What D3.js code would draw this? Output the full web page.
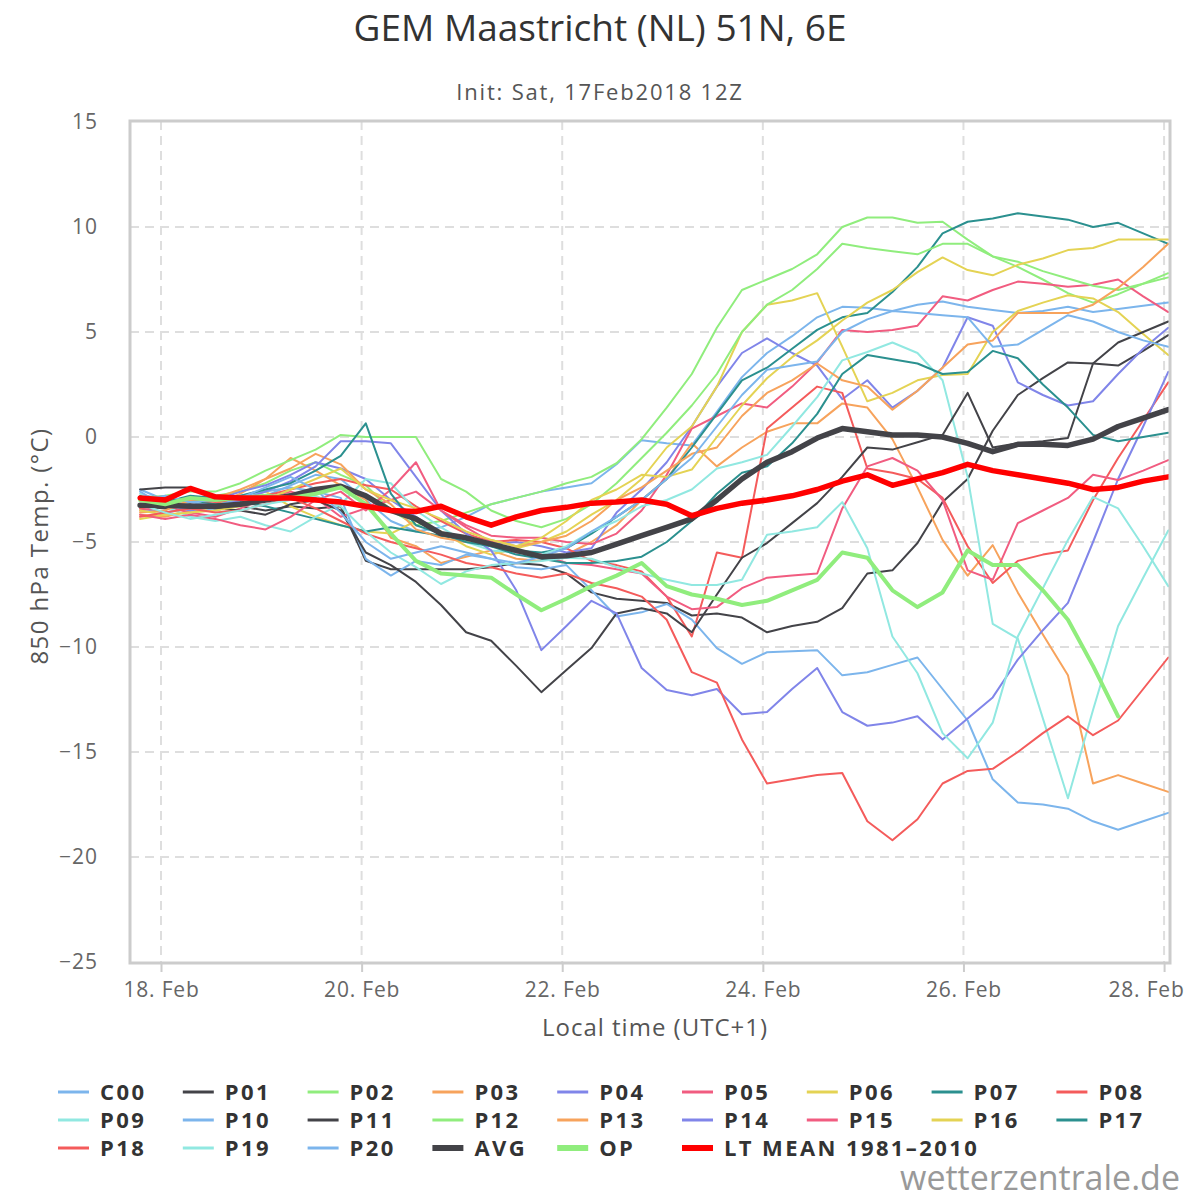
<!DOCTYPE html>
<html>
<head>
<meta charset="utf-8">
<script src="https://cdn.jsdelivr.net/npm/d3@7"></script>
<style>
  body { margin: 0; background: #fff; }
  svg text { font-family: "Open Sans", "DejaVu Sans", sans-serif; }
</style>
</head>
<body>
<div id="chart"></div>
<script>
// forecast hours after init (Sat 17 Feb 2018 12Z), 6-hourly
const hours = [6, 12, 18, 24, 30, 36, 42, 48, 54, 60, 66, 72, 78, 84, 90, 96, 102, 108, 114, 120, 126,
    132, 138, 144, 150, 156, 162, 168, 174, 180, 186, 192, 198, 204, 210, 216, 222, 228, 234, 240, 246, 252];

const tickDays = [18, 20, 22, 24, 26, 28];
const yTicks = [15, 10, 5, 0, -5, -10, -15, -20, -25];

// 850 hPa temperatures per member (°C)
const C00 = [-2.5, -3.0, -3.3, -3.5, -3.2, -2.8, -2.3, -1.8, -2.0, -3.0, -4.0, -4.5, -4.3, -3.8, -3.2, -2.9, -2.6, -2.4, -2.2, -1.3, -0.15,
    -0.3, -0.4, 1.2, 2.85, 4.0, 4.8, 5.7, 6.2, 6.15, 6.0, 6.3, 6.45, 6.2, 6.05, 5.9, 6.0, 6.2, 5.95, 6.1, 6.25, 6.4];
const P01 = [-2.5, -2.4, -2.4, -2.9, -3.3, -3.5, -3.3, -3.4, -3.3, -5.9, -6.3, -6.3, -6.3, -6.3, -6.2, -6.0, -6.1, -6.5, -7.4, -7.7, -7.8,
    -7.9, -8.5, -8.4, -8.6, -9.3, -9.0, -8.8, -8.15, -6.5, -6.35, -5.05, -3.1, -2.0, 0.3, 2.0, 2.8, 3.55, 3.5, 3.4, 4.1, 4.85];
const P02 = [-3.0, -3.1, -2.9, -2.8, -2.6, -2.2, -1.6, -1.2, -1.8, -2.3, -3.5, -4.2, -4.0, -3.6, -3.2, -2.9, -2.6, -2.2, -1.9, -1.25, -0.1,
    1.4, 3.0, 5.2, 7.0, 7.5, 8.0, 8.7, 10.0, 10.45, 10.45, 10.2, 10.25, 9.4, 8.6, 8.1, 7.5, 6.85, 6.4, 6.8, 7.3, 7.8];
const P03 = [-3.7, -3.8, -3.5, -3.2, -2.7, -2.0, -1.0, -1.6, -2.3, -3.0, -4.8, -5.2, -6.0, -5.7, -5.4, -5.8, -5.9, -5.6, -5.0, -4.2, -3.0,
    -2.0, -0.3, -1.4, -0.5, 0.25, 0.65, 0.65, 1.6, 1.4, -0.1, -2.4, -4.9, -6.6, -5.15, -7.4, -9.4, -11.35, -16.5, -16.1, -16.5, -16.9];
const P04 = [-3.4, -3.6, -3.4, -3.0, -2.6, -2.3, -1.8, -1.2, -1.5, -2.0, -3.0, -3.8, -4.6, -5.0, -5.1, -5.0, -5.2, -5.5, -5.3, -3.6, -2.5,
    -1.2, 0.5, 2.4, 4.0, 4.7, 4.0, 3.4, 1.8, 2.7, 1.4, 2.2, 3.3, 5.7, 5.3, 2.6, 2.0, 1.5, 1.7, 3.0, 4.2, 5.2];
const P05 = [-3.5, -3.3, -3.6, -3.8, -3.4, -2.9, -2.6, -2.9, -3.8, -3.4, -3.0, -2.6, -3.5, -4.2, -4.7, -4.8, -4.8, -5.0, -5.1, -4.6, -3.5,
    -1.8, 0.4, 1.0, 1.6, 1.4, 2.4, 3.55, 5.1, 5.0, 5.1, 5.3, 6.7, 6.5, 7.0, 7.4, 7.3, 7.15, 7.25, 7.5, 6.7, 5.95];
const P06 = [-3.9, -3.7, -3.6, -3.3, -3.0, -2.6, -3.3, -3.8, -4.2, -4.5, -4.6, -4.0, -4.5, -5.2, -5.6, -5.3, -5.0, -4.5, -3.7, -3.0, -2.0,
    -0.5, 0.5, 2.4, 5.0, 6.3, 6.5, 6.85, 4.3, 1.7, 2.1, 2.7, 2.95, 3.0, 5.0, 6.0, 6.4, 6.75, 6.6, 5.95, 4.9, 3.9];
const P07 = [-2.8, -2.9, -3.0, -3.2, -3.1, -3.3, -3.6, -3.9, -4.2, -4.5, -4.3, -4.5, -4.7, -4.9, -5.2, -5.4, -5.5, -5.3, -4.6, -3.8, -3.0,
    -2.0, -0.5, 1.1, 2.7, 3.3, 4.2, 5.1, 5.7, 5.9, 6.9, 8.1, 9.7, 10.25, 10.4, 10.65, 10.5, 10.35, 10.0, 10.2, 9.7, 9.2];
const P08 = [-3.4, -3.2, -3.0, -3.1, -3.0, -2.8, -2.5, -2.2, -2.0, -2.3, -2.5, -3.3, -4.0, -4.6, -5.0, -4.9, -5.0, -5.3, -5.9, -6.1, -6.4,
    -7.6, -9.5, -5.5, -5.75, 0.4, 1.4, 2.4, 2.1, -1.5, -1.7, -2.0, -2.9, -5.2, -6.95, -5.9, -5.6, -5.4, -3.0, -1.0, 0.8, 2.6];
const P09 = [-2.7, -3.3, -3.8, -4.0, -3.8, -4.2, -4.5, -3.8, -3.2, -2.0, -2.2, -3.5, -4.3, -5.0, -5.4, -5.5, -5.6, -5.2, -4.5, -4.0, -3.3,
    -3.0, -2.5, -1.5, -1.2, -0.85, 0.5, 1.9, 3.65, 4.05, 4.5, 4.0, 2.7, -1.9, -8.9, -9.6, -13.4, -17.2, -13.0, -9.0, -6.7, -4.45];
const P10 = [-2.6, -3.3, -3.1, -3.0, -2.8, -2.6, -2.4, -2.6, -2.9, -5.8, -6.6, -5.9, -6.1, -5.6, -5.8, -6.2, -6.3, -6.1, -7.3, -8.55, -8.35,
    -7.95, -8.7, -10.05, -10.8, -10.25, -10.2, -10.15, -11.35, -11.2, -10.85, -10.5, -12.0, -13.5, -16.3, -17.4, -17.5, -17.7, -18.3, -18.7, -18.3, -17.9];
const P11 = [-3.3, -3.4, -3.2, -3.4, -3.5, -3.7, -3.2, -3.0, -3.5, -5.5, -6.1, -6.9, -8.0, -9.3, -9.7, -10.9, -12.15, -11.1, -10.05, -8.4, -8.15,
    -8.4, -9.3, -7.5, -5.75, -5.05, -4.1, -3.15, -1.9, -0.5, -0.6, -0.25, 0.1, 2.1, -0.5, -0.3, -0.2, -0.05, 3.5, 4.5, 5.0, 5.5];
const P12 = [-2.9, -2.8, -2.6, -2.6, -2.2, -1.6, -1.1, -0.6, 0.1, 0.0, 0.0, 0.0, -2.0, -2.6, -3.5, -4.0, -4.3, -3.9, -3.2, -2.2, -1.0,
    0.2, 1.5, 3.0, 5.0, 6.3, 7.0, 8.0, 9.2, 9.0, 8.85, 8.7, 9.2, 9.2, 8.6, 8.35, 7.9, 7.55, 7.2, 7.0, 7.3, 7.6];
const P13 = [-3.6, -3.5, -3.0, -2.9, -2.5, -2.0, -1.5, -0.8, -1.3, -2.5, -3.2, -4.4, -4.8, -5.0, -4.9, -5.2, -5.0, -4.7, -4.0, -3.0, -2.4,
    -1.6, -0.8, -0.5, 1.0, 2.1, 2.7, 3.5, 2.7, 2.4, 1.3, 2.2, 3.3, 4.4, 4.6, 5.9, 5.9, 5.9, 6.3, 7.1, 8.1, 9.2];
const P14 = [-3.0, -3.2, -3.5, -3.3, -3.0, -2.6, -2.1, -1.4, -0.2, -0.2, -0.3, -1.9, -3.5, -4.6, -5.4, -7.3, -10.15, -9.0, -7.8, -8.4, -11.0,
    -12.05, -12.3, -12.0, -13.2, -13.1, -12.0, -11.0, -13.1, -13.75, -13.6, -13.3, -14.4, -13.4, -12.4, -10.6, -9.2, -7.9, -5.0, -2.0, 0.5, 3.1];
const P15 = [-3.7, -3.9, -3.7, -3.9, -4.2, -4.4, -3.8, -3.0, -2.6, -3.5, -2.5, -1.2, -3.5, -4.3, -5.0, -5.5, -5.6, -6.0, -6.1, -6.3, -6.5,
    -7.6, -8.2, -8.1, -7.2, -6.7, -6.6, -6.5, -3.4, -1.4, -1.0, -1.6, -3.0, -6.35, -6.8, -4.1, -3.5, -2.9, -1.8, -2.05, -1.6, -1.1];
const P16 = [-3.5, -3.7, -3.6, -3.5, -3.3, -3.0, -2.5, -2.0, -1.5, -2.5, -3.0, -3.4, -3.9, -4.5, -4.9, -5.2, -4.8, -4.0, -3.0, -2.5, -1.8,
    -1.9, -1.55, 0.0, 1.5, 2.8, 3.8, 4.6, 5.55, 6.4, 7.0, 7.85, 8.55, 7.95, 7.7, 8.2, 8.5, 8.9, 9.0, 9.4, 9.4, 9.4];
const P17 = [-3.0, -3.1, -2.8, -2.9, -2.8, -2.5, -2.2, -1.6, -0.9, 0.65, -2.7, -4.2, -4.6, -5.0, -5.2, -5.6, -5.8, -6.0, -6.0, -5.9, -5.7,
    -5.0, -4.0, -2.7, -1.7, -1.4, -0.3, 1.1, 3.0, 3.9, 3.7, 3.5, 3.0, 3.1, 4.1, 3.75, 2.5, 1.4, 0.1, -0.2, 0.0, 0.2];
const P18 = [-3.8, -3.6, -3.4, -3.6, -3.5, -3.2, -2.9, -3.4, -4.0, -4.6, -5.0, -5.3, -5.6, -6.0, -6.2, -6.5, -6.7, -6.5, -6.95, -7.2, -7.6,
    -8.7, -11.2, -11.7, -14.4, -16.5, -16.3, -16.1, -16.0, -18.3, -19.2, -18.2, -16.5, -15.9, -15.8, -15.0, -14.1, -13.3, -14.2, -13.5, -12.0, -10.5];
const P19 = [-3.2, -3.6, -3.9, -3.7, -3.5, -3.2, -3.0, -2.8, -3.3, -4.5, -5.5, -6.2, -7.0, -6.4, -6.1, -6.0, -5.9, -5.75, -5.8, -6.2, -6.5,
    -6.8, -7.05, -7.05, -6.8, -4.65, -4.5, -4.3, -3.1, -5.3, -9.5, -11.25, -14.1, -15.3, -13.6, -9.5, -7.2, -4.9, -2.85, -3.4, -5.2, -7.1];
const P20 = [-3.0, -2.8, -3.1, -3.3, -2.9, -2.4, -1.9, -2.5, -3.6, -5.0, -5.8, -5.5, -5.2, -5.5, -5.8, -6.0, -5.7, -5.3, -4.5, -3.8, -3.0,
    -2.0, -1.0, 0.5, 2.0, 3.2, 3.4, 3.6, 5.0, 5.6, 6.0, 5.9, 5.8, 5.7, 4.3, 4.4, 5.1, 5.8, 5.5, 5.0, 4.6, 4.3];
const AVG = [-3.25, -3.25, -3.3, -3.3, -3.2, -3.0, -2.8, -2.5, -2.35, -2.8, -3.5, -3.9, -4.6, -4.8, -5.1, -5.4, -5.7, -5.65, -5.5, -5.1, -4.7,
    -4.3, -3.9, -3.0, -2.0, -1.2, -0.7, -0.05, 0.4, 0.25, 0.1, 0.1, 0.0, -0.3, -0.7, -0.35, -0.35, -0.4, -0.1, 0.5, 0.9, 1.3];
const OP = [-3.0, -3.2, -2.9, -3.0, -2.9, -2.8, -2.9, -2.7, -2.4, -3.2, -4.6, -5.9, -6.5, -6.6, -6.7, -7.5, -8.25, -7.7, -7.1, -6.6, -6.0,
    -7.1, -7.5, -7.7, -8.0, -7.8, -7.3, -6.8, -5.5, -5.75, -7.3, -8.1, -7.4, -5.4, -6.1, -6.1, -7.3, -8.7, -10.9, -13.3, null, null];
const LTMEAN = [-2.9, -3.0, -2.45, -2.85, -2.9, -2.9, -2.9, -3.0, -3.1, -3.3, -3.5, -3.55, -3.3, -3.8, -4.2, -3.8, -3.5, -3.35, -3.15, -3.1, -3.0,
    -3.2, -3.75, -3.4, -3.15, -3.0, -2.8, -2.5, -2.1, -1.8, -2.3, -2.0, -1.7, -1.3, -1.6, -1.8, -2.0, -2.2, -2.5, -2.4, -2.1, -1.9];

const palette = ["#7cb5ec", "#434348", "#90ed7d", "#f7a35c", "#8085e9",
    "#f15c80", "#e4d354", "#2b908f", "#f45b5b", "#91e8e1"];

const members = [C00, P01, P02, P03, P04, P05, P06, P07, P08, P09, P10,
    P11, P12, P13, P14, P15, P16, P17, P18, P19, P20];
const memberNames = ["C00", "P01", "P02", "P03", "P04", "P05", "P06", "P07", "P08", "P09", "P10",
    "P11", "P12", "P13", "P14", "P15", "P16", "P17", "P18", "P19", "P20"];

const series = members.map((v, i) => ({ name: memberNames[i], values: v, color: palette[i % 10], width: 2 }));
series.push({ name: "AVG", values: AVG, color: "#434348", width: 5.5 });
series.push({ name: "OP", values: OP, color: "#90ed7d", width: 4 });
series.push({ name: "LT MEAN 1981\u20132010", values: LTMEAN, color: "#ff0000", width: 5.5 });

function drawChart() {
    const dims = { width: 1200, height: 1200, left: 130, right: 1170, top: 121, bottom: 963 };

    const svg = d3.select("#chart").append("svg")
        .attr("width", dims.width)
        .attr("height", dims.height);

    svg.append("rect").attr("width", dims.width).attr("height", dims.height).attr("fill", "#fff");

    // init time, shown in local time (UTC+1)
    const initMs = Date.UTC(2018, 1, 17, 12);
    const toDate = h => new Date(initMs + (h + 1) * 3600e3);

    const xScale = d3.scaleUtc()
        .domain([new Date(Date.UTC(2018, 1, 17, 16, 35)), new Date(Date.UTC(2018, 1, 28, 1, 25))])
        .range([dims.left, dims.right]);

    const yScale = d3.scaleLinear()
        .domain([-25, 15])
        .range([962, 122]);

    const tickDates = tickDays.map(d => new Date(Date.UTC(2018, 1, d)));

    // gridlines
    const grid = svg.append("g");
    grid.selectAll("line.h")
        .data(yTicks.filter(t => t !== 15 && t !== -25))
        .join("line")
        .attr("x1", dims.left).attr("x2", dims.right)
        .attr("y1", d => yScale(d)).attr("y2", d => yScale(d))
        .attr("stroke", "#dedede").attr("stroke-width", 2).attr("stroke-dasharray", "9,6");
    grid.selectAll("line.v")
        .data(tickDates)
        .join("line")
        .attr("x1", d => xScale(d)).attr("x2", d => xScale(d))
        .attr("y1", dims.top).attr("y2", dims.bottom)
        .attr("stroke", "#dedede").attr("stroke-width", 2).attr("stroke-dasharray", "9,6");

    // axes
    const fmt = d3.utcFormat("%-d. %b");
    const xAxis = svg.append("g")
        .attr("transform", `translate(0,${dims.bottom})`)
        .call(d3.axisBottom(xScale).tickValues(tickDates).tickFormat(fmt).tickSize(9).tickPadding(10));
    xAxis.select(".domain").remove();
    xAxis.selectAll(".tick line").attr("stroke", "#ccc").attr("stroke-width", 2);
    xAxis.selectAll(".tick text").attr("fill", "#666")
        .style("font-size", "21px").style("letter-spacing", "0.8px");
    // keep the last label inside the chart, as the original does
    xAxis.selectAll(".tick text").filter((d, i, n) => i === n.length - 1)
        .attr("text-anchor", "end").attr("dx", 20);

    const yAxis = svg.append("g")
        .attr("transform", `translate(${dims.left},0)`)
        .call(d3.axisLeft(yScale).tickValues(yTicks).tickSize(0).tickPadding(32)
            .tickFormat(d => d < 0 ? "\u2212" + Math.abs(d) : String(d)));
    yAxis.select(".domain").remove();
    yAxis.selectAll(".tick text").attr("fill", "#666")
        .style("font-size", "21px").style("letter-spacing", "1px");

    // series lines
    const line = d3.line()
        .defined(d => d.v !== null)
        .x(d => xScale(d.t))
        .y(d => yScale(d.v));

    const plot = svg.append("g");
    series.forEach(s => {
        const pts = hours.map((h, i) => ({ t: toDate(h), v: s.values[i] }));
        plot.append("path")
            .datum(pts)
            .attr("d", line)
            .attr("fill", "none")
            .attr("stroke", s.color)
            .attr("stroke-width", s.width)
            .attr("stroke-linejoin", "round")
            .attr("stroke-linecap", "round");
    });

    // plot border
    svg.append("rect")
        .attr("x", dims.left).attr("y", dims.top)
        .attr("width", dims.right - dims.left).attr("height", dims.bottom - dims.top)
        .attr("fill", "none").attr("stroke", "#ccc").attr("stroke-width", 3);

    // titles
    svg.append("text").attr("x", 600).attr("y", 41).attr("text-anchor", "middle")
        .attr("fill", "#333").style("font-size", "37px")
        .text("GEM Maastricht (NL) 51N, 6E");
    svg.append("text").attr("x", 600).attr("y", 100).attr("text-anchor", "middle")
        .attr("fill", "#555").style("font-size", "22px").style("letter-spacing", "1.8px")
        .text("Init: Sat, 17Feb2018 12Z");
    svg.append("text").attr("x", 655).attr("y", 1036).attr("text-anchor", "middle")
        .attr("fill", "#555").style("font-size", "24px").style("letter-spacing", "1px")
        .text("Local time (UTC+1)");
    svg.append("text")
        .attr("transform", "translate(48,546) rotate(-90)")
        .attr("text-anchor", "middle")
        .attr("fill", "#555").style("font-size", "24px").style("letter-spacing", "1.4px")
        .text("850 hPa Temp. (\u00b0C)");

    // legend
    const legend = svg.append("g");
    series.forEach((s, i) => {
        const col = i % 9, row = Math.floor(i / 9);
        const g = legend.append("g")
            .attr("transform", `translate(${58 + col * 124.8},${1092 + row * 28})`);
        g.append("line")
            .attr("x1", 0).attr("x2", 31).attr("y1", 0).attr("y2", 0)
            .attr("stroke", s.color).attr("stroke-width", s.width > 2 ? 6 : 3);
        g.append("text")
            .attr("x", 42).attr("y", 8)
            .attr("fill", "#333").style("font-size", "22px").style("font-weight", "bold")
            .style("letter-spacing", "2.4px")
            .text(s.name);
    });

    svg.append("text").attr("x", 1180).attr("y", 1190).attr("text-anchor", "end")
        .attr("fill", "#999").style("font-size", "34px")
        .text("wetterzentrale.de");
}

drawChart();
</script>
</body>
</html>
